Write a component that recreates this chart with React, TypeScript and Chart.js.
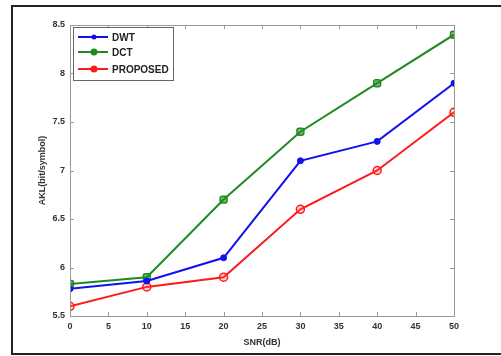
import React, { useEffect, useRef } from "react";
import { Chart, registerables } from "chart.js";

Chart.register(...registerables);

const snr = [0, 10, 20, 30, 40, 50];
const dwt = [5.78, 5.86, 6.1, 7.1, 7.3, 7.9];
const dct = [5.83, 5.9, 6.7, 7.4, 7.9, 8.4];
const proposed = [5.6, 5.8, 5.9, 6.6, 7.0, 7.6];
const seriesNames = ["DWT", "DCT", "PROPOSED"];
const xTitle = "SNR(dB)";
const yTitle = "AKL(bit/symbol)";

const BLUE = "#1010f0";
const GREEN = "#1f8a1f";
const RED = "#ff1a1a";
const FONT = "'Liberation Sans', Arial, sans-serif";

const decorPlugin = {
  id: "decor",
  beforeDraw(chart: any) {
    const ctx = chart.ctx;
    ctx.save();
    ctx.fillStyle = "#ffffff";
    ctx.fillRect(0, 0, chart.width, chart.height);
    ctx.strokeStyle = "#222";
    ctx.lineWidth = 2;
    ctx.strokeRect(12, 6, 520, 348);
    ctx.restore();
  },
  afterDatasetsDraw(chart: any) {
    const ctx = chart.ctx;
    const { left, right, top, bottom } = chart.chartArea;
    const xs = chart.scales.x;
    const ys = chart.scales.y;
    ctx.save();
    ctx.strokeStyle = "#999";
    ctx.lineWidth = 1;
    ctx.beginPath();
    ctx.rect(left + 0.5, top + 0.5, right - left, bottom - top);
    ctx.stroke();
    ctx.beginPath();
    xs.ticks.forEach((t: any) => {
      const px = Math.round(xs.getPixelForValue(t.value)) + 0.5;
      ctx.moveTo(px, bottom);
      ctx.lineTo(px, bottom - 4);
      ctx.moveTo(px, top);
      ctx.lineTo(px, top + 4);
    });
    ys.ticks.forEach((t: any) => {
      const py = Math.round(ys.getPixelForValue(t.value)) + 0.5;
      ctx.moveTo(left, py);
      ctx.lineTo(left + 4, py);
      ctx.moveTo(right, py);
      ctx.lineTo(right - 4, py);
    });
    ctx.stroke();

    // axis titles
    ctx.fillStyle = "#333";
    ctx.font = `bold 9px ${FONT}`;
    ctx.textAlign = "center";
    ctx.textBaseline = "middle";
    ctx.fillText(xTitle, (left + right) / 2, 343);
    ctx.save();
    ctx.translate(43, (top + bottom) / 2);
    ctx.rotate(-Math.PI / 2);
    ctx.fillText(yTitle, 0, 0);
    ctx.restore();

    // legend
    const lx = 73, ly = 27, lw = 100, lh = 53;
    ctx.fillStyle = "#fff";
    ctx.fillRect(lx, ly, lw, lh);
    ctx.strokeStyle = "#666";
    ctx.lineWidth = 1;
    ctx.strokeRect(lx + 0.5, ly + 0.5, lw, lh);
    const rows = [37, 52, 69];
    const colors = [BLUE, GREEN, RED];
    rows.forEach((ry, i) => {
      ctx.strokeStyle = colors[i];
      ctx.lineWidth = 2;
      ctx.beginPath();
      ctx.moveTo(78, ry);
      ctx.lineTo(108, ry);
      ctx.stroke();
      ctx.beginPath();
      ctx.arc(94, ry, i === 0 ? 2.5 : 3.5, 0, Math.PI * 2);
      ctx.fillStyle = colors[i];
      ctx.fill();
      ctx.fillStyle = "#222";
      ctx.font = `bold 10px ${FONT}`;
      ctx.textAlign = "left";
      ctx.textBaseline = "middle";
      ctx.fillText(seriesNames[i], 112, ry + 1);
    });
    ctx.restore();
  },
};

export default function App() {
  const ref = useRef<HTMLCanvasElement | null>(null);
  useEffect(() => {
    if (!ref.current) return;
    const mk = (arr: number[]) => arr.map((v, i) => ({ x: snr[i], y: v }));
    const chart = new Chart(ref.current, {
      type: "line",
      data: {
        datasets: [
          {
            label: seriesNames[0],
            data: mk(dwt),
            borderColor: BLUE,
            backgroundColor: BLUE,
            borderWidth: 2,
            pointRadius: 3,
            pointStyle: "circle",
            pointBorderWidth: 1,
          },
          {
            label: seriesNames[1],
            data: mk(dct),
            borderColor: GREEN,
            backgroundColor: "rgba(31,138,31,0.6)",
            borderWidth: 2,
            pointRadius: 4,
            pointStyle: "rectRounded",
            pointBorderWidth: 1.5,
          },
          {
            label: seriesNames[2],
            data: mk(proposed),
            borderColor: RED,
            backgroundColor: "rgba(255,80,80,0.25)",
            borderWidth: 2,
            pointRadius: 4,
            pointStyle: "circle",
            pointBorderWidth: 1.5,
          },
        ],
      },
      options: {
        animation: false,
        responsive: false,
        maintainAspectRatio: false,
        layout: { padding: { left: 0, top: 25, right: 47, bottom: 0 } },
        plugins: { legend: { display: false }, tooltip: { enabled: false } },
        scales: {
          x: {
            type: "linear",
            min: 0,
            max: 50,
            afterFit: (s: any) => {
              s.height = 40;
            },
            grid: { display: false, drawTicks: false },
            border: { display: false },
            ticks: {
              stepSize: 5,
              padding: 5,
              color: "#333",
              font: { family: FONT, size: 9, weight: "bold" },
            },
          },
          y: {
            type: "linear",
            min: 5.5,
            max: 8.5,
            afterFit: (s: any) => {
              s.width = 70;
            },
            grid: { display: false, drawTicks: false },
            border: { display: false },
            ticks: {
              stepSize: 0.5,
              padding: 5,
              color: "#333",
              font: { family: FONT, size: 9, weight: "bold" },
              callback: (v: any) => String(Number(v)),
            },
          },
        },
      },
      plugins: [decorPlugin],
    } as any);
    return () => chart.destroy();
  }, []);
  return (
    <div style={{ position: "fixed", left: 0, top: 0, width: 501, height: 356 }}>
      <canvas ref={ref} width={501} height={356} style={{ width: 501, height: 356 }} />
    </div>
  );
}
